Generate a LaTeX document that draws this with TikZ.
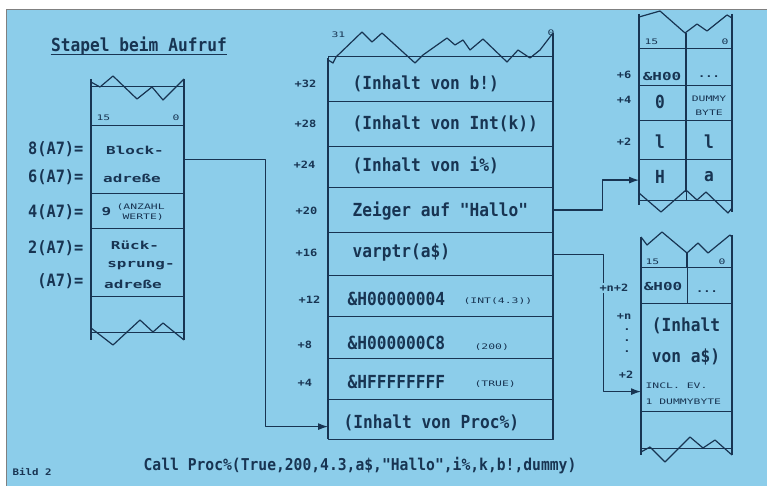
\documentclass[tikz,border=0pt]{standalone}
\usepackage{fontspec}
\newfontfamily\fA[FakeStretch=0.9]{DejaVu Sans Mono}
\newfontfamily\fW[FakeStretch=1.45]{DejaVu Sans Mono}
\newfontfamily\fT[FakeStretch=1.5]{DejaVu Sans Mono}
\newfontfamily\fS[FakeStretch=1.2]{DejaVu Sans Mono}
\usetikzlibrary{arrows.meta}
\definecolor{bg}{RGB}{140,205,234}
\definecolor{ln}{RGB}{24,52,82}
\begin{document}
\begin{tikzpicture}[x=1pt,y=-1pt,color=ln,line width=1.2pt,line join=round,
  cell/.style={draw,inner sep=0pt,anchor=north west},
  big/.style={font=\fA\bfseries\fontsize{18}{18}\selectfont,inner sep=0pt},
  lab/.style={font=\fA\bfseries\fontsize{17}{17}\selectfont,inner sep=0pt,anchor=east},
  wide/.style={font=\fW\bfseries\fontsize{11}{11}\selectfont,inner sep=0pt},
  tiny/.style={font=\fT\fontsize{7.6}{7.6}\selectfont,inner sep=0pt},
  off/.style={font=\fS\bfseries\fontsize{10}{10}\selectfont,inner sep=0pt},
  arr/.style={-{Latex[length=10pt,width=7pt]}}]
\useasboundingbox (0,0) rectangle (767,486);
\fill[white] (0,0) rectangle (767,486);
\fill[bg] (6,9) rectangle (767,486);
\draw[gray,line width=0.8pt] (6,486) -- (6,9) -- (767,9);

% ---------- left stack ----------
\node[big] (title) at (139,46) {Stapel beim Aufruf};
\draw[line width=1pt] ([yshift=-3pt]title.base west) -- ([yshift=-3pt]title.base east);
\draw (91,79) -- (91,340);
\draw (184,79) -- (184,340);
\draw (91,82) -- (100,87) -- (113,76) -- (137,99) -- (152,87) -- (163,100) -- (184,79);
\draw (91,328) -- (113,345) -- (140,320) -- (153,332) -- (163,323) -- (184,340);
\node[cell,minimum width=93,minimum height=39] (L0) at (91,86) {};
\node[cell,minimum width=93,minimum height=68] (L1) at (91,125) {};
\node[cell,minimum width=93,minimum height=35] (L2) at (91,193) {};
\node[cell,minimum width=93,minimum height=68] (L3) at (91,228) {};
\node[cell,minimum width=93,minimum height=36] (L4) at (91,296) {};
\node[tiny,anchor=west] (l15) at (96,118) {15};
\node[tiny,anchor=east] (l0) at (180,118) {0};
\node[lab] (a8) at (84,149) {8(A7)=};
\node[lab] (a6) at (84,177) {6(A7)=};
\node[lab] (a4) at (84,212) {4(A7)=};
\node[lab] (a2) at (84,248) {2(A7)=};
\node[lab] (a0) at (84,281) {(A7)=};
\node[wide] (blk) at (135,150) {Block-};
\node[wide] (adr1) at (132,178) {adreße};
\node[wide,anchor=west] (nine) at (101,212) {9};
\node[tiny,anchor=west] (anz) at (116,207) {(ANZAHL};
\node[tiny,anchor=west] (wer) at (122,217) {WERTE)};
\node[wide] (rue) at (135,245) {Rück-};
\node[wide] (spr) at (141,266) {sprung-};
\node[wide] (adr2) at (133,284) {adreße};

% ---------- middle stack ----------
\draw (328,439) -- (328,58);
\draw (553,439) -- (553,33);
\draw (328,60) -- (333,63) -- (336,57) -- (362,32) -- (372,42) -- (382,33) -- (415,63) -- (423,55) -- (447,38) -- (455,45) -- (463,40) -- (470,50) -- (483,39) -- (507,62) -- (518,50) -- (530,58) -- (540,50) -- (553,33);
\node[cell,minimum width=225,minimum height=45] (m1) at (328,56) {};
\node[cell,minimum width=225,minimum height=45] (m2) at (328,101) {};
\node[cell,minimum width=225,minimum height=41] (m3) at (328,146) {};
\node[cell,minimum width=225,minimum height=45] (m4) at (328,187) {};
\node[cell,minimum width=225,minimum height=43] (m5) at (328,232) {};
\node[cell,minimum width=225,minimum height=41] (m6) at (328,275) {};
\node[cell,minimum width=225,minimum height=42] (m7) at (328,316) {};
\node[cell,minimum width=225,minimum height=41] (m8) at (328,358) {};
\node[cell,minimum width=225,minimum height=40] (m9) at (328,399) {};
\node[tiny,anchor=west] (m31) at (331,35) {31};
\node[tiny] (mz) at (551,33) {0};
\node[big,anchor=west] (t1) at (352,84) {(Inhalt von b!)};
\node[big,anchor=west] (t2) at (352,124) {(Inhalt von Int(k))};
\node[big,anchor=west] (t3) at (352,165) {(Inhalt von i\%)};
\node[big,anchor=west] (t4) at (352,211) {Zeiger auf "Hallo"};
\node[big,anchor=west] (t5) at (352,253) {varptr(a\$)};
\node[big,anchor=west] (t6) at (347,299) {\&H00000004};
\node[big,anchor=west] (t7) at (347,343) {\&H000000C8};
\node[big,anchor=west] (t8) at (347,382) {\&HFFFFFFFF};
\node[big,anchor=west] (t9) at (343,423) {(Inhalt von Proc\%)};
\node[tiny,anchor=west] (n6) at (463,301) {(INT(4.3))};
\node[tiny,anchor=west] (n7) at (474,347) {(200)};
\node[tiny,anchor=west] (n8) at (474,384) {(TRUE)};
\node[off,anchor=west] (o32) at (294,84) {+32};
\node[off,anchor=west] (o28) at (294,124) {+28};
\node[off,anchor=west] (o24) at (293,165) {+24};
\node[off,anchor=west] (o20) at (295,211) {+20};
\node[off,anchor=west] (o16) at (295,253) {+16};
\node[off,anchor=west] (o12) at (298,300) {+12};
\node[off,anchor=west] (o8) at (297,345) {+8};
\node[off,anchor=west] (o4) at (297,383) {+4};

% ---------- right top stack ----------
\draw (639,14) -- (639,205);
\draw (732,14) -- (732,212);
\draw (686,33) -- (686,192);
\draw (639,17) -- (660,11) -- (685,33) -- (697,24) -- (707,31) -- (727,15) -- (732,18);
\draw (639,193) -- (661,212) -- (686,190) -- (697,200) -- (706,192) -- (728,213) -- (732,208);
\node[cell,minimum width=47,minimum height=37] (rt1a) at (639,48) {};
\node[cell,minimum width=46,minimum height=37] (rt1b) at (686,48) {};
\node[cell,minimum width=47,minimum height=35] (rt2a) at (639,85) {};
\node[cell,minimum width=46,minimum height=35] (rt2b) at (686,85) {};
\node[cell,minimum width=47,minimum height=39] (rt3a) at (639,120) {};
\node[cell,minimum width=46,minimum height=39] (rt3b) at (686,120) {};
\node[cell,minimum width=47,minimum height=41] (rt4a) at (639,159) {};
\node[cell,minimum width=46,minimum height=41] (rt4b) at (686,159) {};
\node[tiny,anchor=west] (r15) at (644,42) {15};
\node[tiny] (r0) at (725,42) {0};
\node[wide] (rh) at (662,76) {\&H00};
\node[off] (rd) at (709,77) {...};
\node[big] (ro) at (660,102) {0};
\node[tiny] (rdu) at (709,99) {DUMMY};
\node[tiny] (rby) at (709,113) {BYTE};
\node[big] (rl1) at (660,142) {l};
\node[big] (rl2) at (709,142) {l};
\node[big] (rH) at (660,177) {H};
\node[big] (ra) at (709,177) {a};
\node[off,anchor=east] (r6) at (632,75) {+6};
\node[off,anchor=east] (r4) at (632,100) {+4};
\node[off,anchor=east] (r2) at (632,142) {+2};

% ---------- right bottom stack ----------
\draw (641,237) -- (641,455);
\draw (732,235) -- (732,455);
\draw (687,253) -- (687,267);
\draw (641,237) -- (647,245) -- (662,232) -- (687,253) -- (698,243) -- (708,253) -- (730,235) -- (732,237);
\draw (641,452) -- (650,447) -- (665,462) -- (690,437) -- (703,448) -- (715,440) -- (732,455);
\node[cell,minimum width=46,minimum height=36] (rb1a) at (641,267) {};
\node[cell,minimum width=45,minimum height=36] (rb1b) at (687,267) {};
\node[cell,minimum width=91,minimum height=108] (rb2) at (641,303) {};
\node[cell,minimum width=91,minimum height=37] (rb3) at (641,411) {};
\node[tiny,anchor=west] (b15) at (645,262) {15};
\node[tiny] (b0) at (722,262) {0};
\node[wide] (bh) at (663,286) {\&H00};
\node[off] (bd) at (707,292) {...};
\node[big] (bi1) at (686,326) {(Inhalt};
\node[big] (bi2) at (686,357) {von a\$)};
\node[tiny,anchor=west] (bin) at (645,386) {INCL. EV.};
\node[tiny,anchor=west] (bdu) at (645,402) {1 DUMMYBYTE};

% ---------- connectors ----------
\draw[arr] (L1.east) -- ++(80,0) |- ([yshift=-7pt]m9.west);
\draw[arr] (m4.east) -- ++(48,0) |- (rt4a.west);
\draw[arr] (m5.east) -- ++(49,0) |- ([yshift=-34pt]rb2.west);
\node[off,anchor=east,fill=bg,inner sep=1pt] (bn2) at (630,288) {+n+2};
\node[off,anchor=east] (bn) at (632,317) {+n};
\node[off] (dt1) at (627,330) {.};
\node[off] (dt2) at (627,341) {.};
\node[off] (dt3) at (627,352) {.};
\node[off,anchor=east] (bp2) at (634,375) {+2};

% ---------- bottom ----------
\node[font=\fA\bfseries\fontsize{16.3}{16.3}\selectfont,inner sep=0pt] (call) at (360,466) {Call Proc\%(True,200,4.3,a\$,"Hallo",i\%,k,b!,dummy)};
\node[off,anchor=west,font=\fS\bfseries\fontsize{9}{9}\selectfont] (bild) at (12,472) {Bild 2};
\end{tikzpicture}
\end{document}
